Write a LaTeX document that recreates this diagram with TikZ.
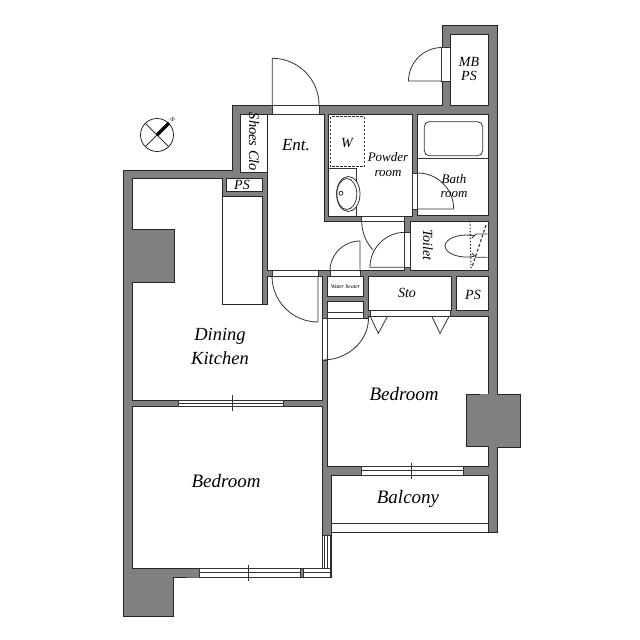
\documentclass[tikz,border=0pt]{standalone}
\usepackage{fontspec}
\setmainfont{Liberation Serif}
\tikzset{
    wall/.style={draw=black!85,fill=black!50,line width=0.8pt},
    room/.style={draw=black!85,fill=white,line width=0.8pt},
    jamb/.style={draw=black!80,fill=white,line width=0.8pt},
    leaf/.style={draw=black!80,line width=0.8pt},
    roomname/.style={inner sep=0pt,font=\itshape,align=center,text=black}
}
\begin{document}
\begin{tikzpicture}[x=1pt,y=-1pt]
    \useasboundingbox (0,0) rectangle (640,640);

    % Murs
    \draw[wall] (123,170) -- (232,170) -- (232,105) -- (442,105) -- (442,25) -- (497,25)
        -- (497,394) -- (520,394) -- (520,447) -- (497,447) -- (497,532) -- (331,532)
        -- (331,577) -- (199,577) -- (173,577) -- (173,616) -- (123,616) -- cycle;

    % Pieces
    \draw[room] (132,178) -- (222,178) -- (222,304) -- (267,304) -- (267,276) -- (322.3,276)
        -- (322.3,400.7) -- (132,400.7) -- (132,282) -- (174.5,282) -- (174.5,229.3) -- (132,229.3) -- cycle;
    \draw[room] (267.3,114) -- (324,114) -- (324,221) -- (404.5,221) -- (404.5,270.7) -- (267.3,270.7) -- cycle;
    \draw[room] (132,406) rectangle (322.3,568.3);
    \draw[room] (327.7,318.3) -- (368.3,318.3) -- (368.3,316) -- (488,316) -- (488,466) -- (327.7,466) -- cycle;
    \draw[room] (331,475) rectangle (488,532);
    \draw[room] (328.7,114) rectangle (412.3,216);
    \draw[room] (417.7,114) rectangle (488.3,215.7);
    \draw[room] (410,221) rectangle (488.3,270.7);

    % Rangements
    \foreach \xa/\ya/\xb/\yb in {450.7/34/488.3/105, 240/114/267.3/172.7, 226.7/178/262.7/191,
        222/196/262.7/304, 327.7/276/363.3/296, 327.7/301.7/363.3/312.3,
        368.3/276/451.7/310.3, 456.7/276/488.3/310.7} {
        \draw[room] (\xa,\ya) rectangle (\xb,\yb);
    }

    % Poteau de droite
    \draw[wall] (488,394) -- (466.7,394) -- (466.7,446.7) -- (488,446.7);
    \fill[black!50] (480,394.4) rectangle (496.6,446.3);

    % Ouvertures
    \foreach \xa/\ya/\xb/\yb in {272.3/105/319/114, 441.7/47.7/450.7/81, 412.3/173/417.7/209,
        361.7/216/404.5/221, 404.5/232/410/267.5, 272.3/270.7/318.3/276, 330/270.7/360/276,
        327.7/312.3/363.3/318.3, 322.3/318.3/327.7/360, 370/310.3/450/316,
        178.7/400.7/283.3/406, 361.7/466/463.3/475, 199.3/568.3/300/577, 303.7/568.3/330.7/577,
        322.3/535/330.7/568.3} {
        \draw[jamb] (\xa,\ya) rectangle (\xb,\yb);
    }

    % Fenetres
    \draw[leaf] (178.7,403.4) -- (283.3,403.4);
    \draw[leaf] (361.7,470.5) -- (463.3,470.5);
    \draw[leaf] (199.3,572.6) -- (300,572.6);
    \draw[leaf] (303.7,572.6) -- (330.7,572.6);
    \draw[leaf] (324.5,535) -- (324.5,568.3);
    \draw[leaf] (327.6,535) -- (327.6,568.3);
    \foreach \cx/\cy in {232.5/403.4, 411.3/470.5, 248.3/572.6} {
        \draw[leaf] (\cx,\cy-8) -- (\cx,\cy+8);
        \draw[leaf] (\cx-4.5,\cy) -- (\cx+4.5,\cy);
    }

    % Portes
    \foreach \cx/\cy/\r/\a/\b in {272.3/105/46.7/0/90, 442/81/33.5/90/180, 360/271/30/180/90,
        405/267.3/35/90/180, 417.7/209/36/90/0, 318/276/46/180/270} {
        \draw[leaf] (\cx,\cy) ++(\a:\r pt) arc[start angle=\a,end angle=\b,radius=\r pt] -- (\cx,\cy);
    }
    \draw[leaf] (322.5,360) arc[start angle=-90,end angle=0,x radius=46pt,y radius=42pt];
    \draw[leaf] (361.7,221) arc[start angle=180,end angle=222.6,radius=42.8pt];
    \draw[leaf] (370,316) -- (378.3,333.3) -- (387.7,316);
    \draw[leaf] (431.7,316) -- (440,333.3) -- (449.3,316);

    % Baignoire
    \draw[leaf,rounded corners=5pt] (424.3,121.7) rectangle (482.7,155.7);
    \draw[leaf] (417.7,158) -- (488.3,158);

    % Lave-linge et lavabo
    \draw[leaf,dash pattern=on 2.2pt off 1.8pt,line width=1.1pt] (330.5,116.5) rectangle (364.3,166.7);
    \draw[leaf] (328.7,168.3) -- (356,168.3) -- (356,216);
    \draw[leaf,fill=white] (348.3,194) ellipse[x radius=11.7pt,y radius=17.5pt];
    \draw[leaf] (346.8,194) ellipse[x radius=10pt,y radius=15.5pt];
    \draw[leaf] (341,193.3) circle[radius=2pt];

    % Toilettes
    \draw[leaf] (473.9,235.7) arc[start angle=70,end angle=290,x radius=21.5pt,y radius=11pt];
    \draw[leaf] (472,238) -- (476,234) -- (487.5,234);
    \draw[leaf] (472,253.3) -- (476,257.3) -- (487.5,257.3);
    \draw[leaf,dash pattern=on 1.5pt off 1.8pt,line width=1.1pt] (470,221) -- (471,268);
    \draw[leaf,dash pattern=on 3pt off 2pt,line width=1.1pt] (486,225) -- (471.7,268);

    % Balcon
    \draw[leaf] (331,523.3) -- (488,523.3);

    % Nord
    \node[circle,draw=black!85,line width=0.8pt,minimum size=33pt,inner sep=0pt] (compass) at (157,135) {};
    \draw[leaf] (compass.45) -- (compass.225);
    \draw[leaf] (compass.135) -- (compass.315);
    \draw[line width=3.4pt] (compass.center) -- (compass.45);
    \node[roomname,font=\itshape\fontsize{6.5}{6.5}\selectfont,rotate=-45] (north) at (172.5,120) {N};

    % Etiquettes
    \node[roomname,font=\itshape\fontsize{18.5}{24}\selectfont] (dining) at (220,346) {Dining\\Kitchen};
    \node[roomname,font=\itshape\fontsize{19}{19}\selectfont] (bedroomA) at (226,481) {Bedroom};
    \node[roomname,font=\itshape\fontsize{19}{19}\selectfont] (bedroomB) at (404,394) {Bedroom};
    \node[roomname,font=\itshape\fontsize{19}{19}\selectfont] (balcony) at (408,499) {Balcony};
    \node[roomname,font=\itshape\fontsize{17}{17}\selectfont] (ent) at (296,145) {Ent.};
    \node[roomname,font=\itshape\fontsize{14.5}{14.5}\selectfont,rotate=-90] (shoes) at (254,142) {Shoes Clo};
    \node[roomname,font=\itshape\fontsize{14}{14}\selectfont] (mbps) at (469,69) {MB\\PS};
    \node[roomname,font=\itshape\fontsize{14}{14}\selectfont] (washer) at (347,143) {W};
    \node[roomname,font=\itshape\fontsize{13}{15}\selectfont] (powder) at (388,165) {Powder\\room};
    \node[roomname,font=\itshape\fontsize{13}{14}\selectfont] (bath) at (454,186) {Bath\\room};
    \node[roomname,font=\itshape\fontsize{14}{14}\selectfont,rotate=-90] (toilet) at (428,245) {Toilet};
    \node[roomname,font=\itshape\fontsize{14}{14}\selectfont] (ps) at (242,185) {PS};
    \node[roomname,font=\itshape\fontsize{14}{14}\selectfont] (sto) at (407,293) {Sto};
    \node[roomname,font=\itshape\fontsize{14}{14}\selectfont] (psright) at (473,295) {PS};
    \node[roomname,font=\itshape\fontsize{5.7}{6}\selectfont] (heater) at (345.5,286.5) {Water heater};
\end{tikzpicture}
\end{document}
